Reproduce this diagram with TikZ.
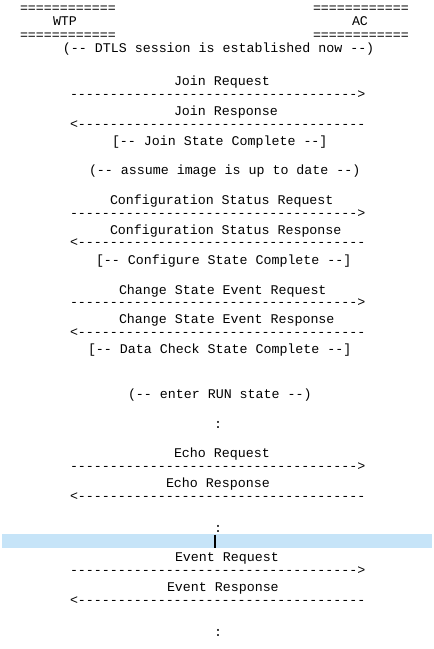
\documentclass[tikz,border=0pt]{standalone}
\usepackage{fontspec}
\setmonofont{Liberation Mono}
\definecolor{selbar}{RGB}{198,228,248}
\tikzset{
  txt/.style={anchor=mid west, inner sep=0pt, outer sep=0pt, yshift=-3pt, font=\ttfamily\fontsize{13.3}{15}\selectfont, text=black},
  dashrow/.style={txt, yshift=2pt},
}
\begin{document}
\begin{tikzpicture}[x=1pt,y=-1pt]
\useasboundingbox (0,0) rectangle (434,649);
% selection bar
\fill[selbar] (2,534) rectangle (432,548);
\coordinate (curtop) at (214.5,534.5);
\coordinate (curbot) at (214.5,548);
\draw[line width=2pt, black] (curtop) -- (curbot);
% header
\node[txt] (topL) at (20,7) {============};
\node[txt] (wtp) at (53,20) {WTP};
\node[txt] (botL) at (20,34) {============};
\node[txt] (topR) at (313,7) {============};
\node[txt] (ac) at (352,20) {AC};
\node[txt] (botR) at (313,34) {============};
\node[txt] (dtls) at (63,47) {(-- DTLS session is established now --)};
% join
\node[txt] (jreq) at (174,80) {Join Request};
\node[dashrow] (a1) at (70,95) {------------------------------------>};
\node[txt] (jresp) at (174,110) {Join Response};
\node[dashrow] (a2) at (70,125) {<------------------------------------};
\node[txt] (jdone) at (112,140) {[-- Join State Complete --]};
\node[txt] (assume) at (89,169) {(-- assume image is up to date --)};
% configure
\node[txt] (creq) at (110,199) {Configuration Status Request};
\node[dashrow] (a3) at (70,214) {------------------------------------>};
\node[txt] (cresp) at (110,229) {Configuration Status Response};
\node[dashrow] (a4) at (70,243) {<------------------------------------};
\node[txt] (cdone) at (96,259) {[-- Configure State Complete --]};
% change state
\node[txt] (sreq) at (119,289) {Change State Event Request};
\node[dashrow] (a5) at (70,303) {------------------------------------>};
\node[txt] (sresp) at (119,318) {Change State Event Response};
\node[dashrow] (a6) at (70,333) {<------------------------------------};
\node[txt] (ddone) at (88,348) {[-- Data Check State Complete --]};
\node[txt] (run) at (128,393) {(-- enter RUN state --)};
\node[txt] (c1) at (214,423) {:};
% echo
\node[txt] (ereq) at (174,452) {Echo Request};
\node[dashrow] (a7) at (70,467) {------------------------------------>};
\node[txt] (eresp) at (166,482) {Echo Response};
\node[dashrow] (a8) at (70,497) {<------------------------------------};
\node[txt] (c2) at (214,527) {:};
% event
\node[txt] (vreq) at (175,556) {Event Request};
\node[dashrow] (a9) at (70,571) {------------------------------------>};
\node[txt] (vresp) at (167,586) {Event Response};
\node[dashrow] (a10) at (70,601) {<------------------------------------};
\node[txt] (c3) at (214,631) {:};
\end{tikzpicture}
\end{document}
